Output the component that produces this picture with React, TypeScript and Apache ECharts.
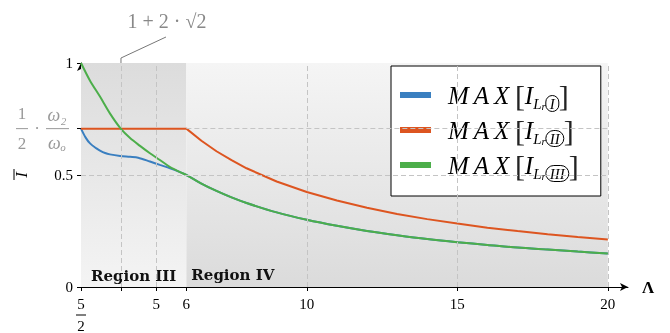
import React, { useEffect, useRef } from "react";
import * as echarts from "echarts";

// ---- data ----
const blueX = [2.5, 2.65, 2.8, 3.0, 3.13, 3.3, 3.46, 3.8, 4.13, 4.4, 4.79, 5.12, 5.46, 5.79, 6];
const blueY = [0.707, 0.668, 0.641, 0.62, 0.609, 0.598, 0.592, 0.585, 0.581, 0.577, 0.56, 0.545, 0.53, 0.513, 0.5];
const greenX = [2.5, 2.8, 3.13, 3.46, 3.82, 4.13, 4.46, 4.79, 5.12, 5.46, 5.79, 6];
const greenY = [1.0, 0.921, 0.85, 0.775, 0.707, 0.665, 0.63, 0.597, 0.567, 0.535, 0.513, 0.5];
const tailX = [6.5, 7, 7.5, 8, 9, 10, 11, 12, 13, 14, 15, 16, 17, 18, 19, 20];
const tailY = [0.462, 0.429, 0.4, 0.375, 0.333, 0.3, 0.273, 0.25, 0.231, 0.214, 0.2, 0.188, 0.176, 0.167, 0.158, 0.15];
const orangeX = [2.5, 6, 6.5, 7, 7.5, 8, 9, 10, 11, 12, 13, 14, 15, 16, 17, 18, 19, 20];
const orangeY = [0.707, 0.707, 0.653, 0.606, 0.566, 0.53, 0.471, 0.424, 0.386, 0.354, 0.326, 0.303, 0.283, 0.265, 0.25, 0.236, 0.223, 0.212];

const seriesNames = ["I", "II", "III"];
const xTickValues = [2.5, 3.828, 5, 6, 10, 15, 20];
const xLabelValues = [2.5, 5, 6, 10, 15, 20];
const yTickValues = [0, 0.5, 0.707, 1];
const yLabelValues = [0, 0.5, 1];
const vGridValues = [3.828, 5, 10, 15, 20];
const hGridValues = [0.5, 0.707];
const regionIII = [2.5, 6];
const regionIV = [6, 20];

const BLUE = "#3a7fc0";
const ORANGE = "#dd5520";
const GREEN = "#4cae4a";
const SERIF = "'Liberation Serif', 'DejaVu Serif', serif";

const zip = (xs: number[], ys: number[]) => xs.map((x, i) => [x, ys[i]]);

export default function App() {
  const ref = useRef<HTMLDivElement>(null);
  useEffect(() => {
    if (!ref.current) return;
    const chart = echarts.init(ref.current, null, { renderer: "svg" });
    const grad = (a: string, b: string) =>
      new echarts.graphic.LinearGradient(0, 0, 0, 1, [
        { offset: 0, color: a },
        { offset: 1, color: b },
      ]);
    const option: any = {
      animation: false,
      grid: { left: 81, right: 42, top: 63, bottom: 46, containLabel: false },
      legend: {
        data: seriesNames,
        orient: "vertical",
        left: 391,
        top: 66,
        padding: [14, 22, 14, 9],
        itemGap: 3,
        itemWidth: 31,
        itemHeight: 6,
        icon: "rect",
        borderColor: "#000",
        borderWidth: 1,
        backgroundColor: "#fff",
        selectedMode: false,
        formatter: (n: string) => `{m|M\u2009A\u2009X}{sp| }{br|[}{i|I}{s|L}{r|r}{c|${n}}{br|]}`,
        textStyle: {
          fontFamily: SERIF,
          color: "#000",
          rich: {
            m: { fontFamily: SERIF, fontStyle: "italic", fontSize: 25, color: "#000", padding: [0, 0, 0, 12], lineHeight: 33 },
            sp: { fontFamily: SERIF, fontSize: 22, lineHeight: 33 },
            br: { fontFamily: SERIF, fontSize: 30, color: "#222", lineHeight: 33 },
            i: { fontFamily: SERIF, fontStyle: "italic", fontSize: 25, color: "#000", lineHeight: 33 },
            s: { fontFamily: SERIF, fontStyle: "italic", fontSize: 15, color: "#000", verticalAlign: "bottom", lineHeight: 24 },
            r: { fontFamily: SERIF, fontStyle: "italic", fontSize: 11, color: "#000", verticalAlign: "bottom", lineHeight: 22 },
            c: {
              fontFamily: SERIF,
              fontStyle: "italic",
              fontSize: 15,
              color: "#000",
              borderColor: "#000",
              borderWidth: 1,
              borderRadius: 9,
              padding: [1, 4, 0, 4],
              verticalAlign: "bottom",
              lineHeight: 16,
            },
          },
        },
      },
      xAxis: {
        type: "value",
        min: 2.5,
        max: 20.67,
        name: "Λ",
        nameLocation: "end",
        nameGap: 14,
        nameTextStyle: { fontFamily: SERIF, fontWeight: "bold", fontSize: 17, color: "#000" },
        axisLine: { show: true, symbol: ["none", "arrow"], symbolSize: [6, 8], lineStyle: { color: "#000", width: 1 } },
        axisTick: { show: true, customValues: xTickValues, length: 4, lineStyle: { color: "#000" } },
        axisLabel: {
          customValues: xLabelValues,
          formatter: (v: number) => (Math.abs(v - 2.5) < 1e-6 ? "5" : String(v)),
          fontFamily: SERIF,
          fontSize: 15,
          color: "#000",
          margin: 9,
        },
        splitLine: { show: false },
      },
      yAxis: {
        type: "value",
        min: 0,
        max: 1,
        axisLine: { show: true, symbol: ["none", "arrow"], symbolSize: [6, 8], lineStyle: { color: "#000", width: 1 } },
        axisTick: { show: true, customValues: yTickValues, length: 4, lineStyle: { color: "#000" } },
        axisLabel: {
          customValues: yLabelValues,
          formatter: (v: number) => (v === 0 ? "0" : v === 1 ? "1" : "0.5"),
          fontFamily: SERIF,
          fontSize: 15,
          color: "#000",
          margin: 8,
        },
        splitLine: { show: false },
      },
      series: [
        {
          type: "line",
          data: [],
          z: 1,
          silent: true,
          markArea: {
            silent: true,
            data: [
              [
                {
                  xAxis: regionIII[0],
                  yAxis: 0,
                  itemStyle: { color: grad("#dcdcdc", "#f4f4f4") },
                  label: { show: true, position: "insideBottom", distance: 4, formatter: "Region III" },
                },
                { xAxis: regionIII[1], yAxis: 1 },
              ],
              [
                {
                  xAxis: regionIV[0],
                  yAxis: 0,
                  itemStyle: { color: grad("#f5f5f5", "#dbdbdb") },
                  label: { show: true, position: "insideBottomLeft", distance: 5, formatter: "Region IV" },
                },
                { xAxis: regionIV[1], yAxis: 1 },
              ],
            ],
            label: { fontFamily: "'DejaVu Serif', serif", fontWeight: "bold", fontSize: 15, color: "#111" },
          },
          markLine: {
            silent: true,
            symbol: ["none", "none"],
            label: { show: false },
            lineStyle: { type: [5, 3], color: "#c4c4c4", width: 1 },
            data: [
              ...vGridValues.map((v) => [{ coord: [v, 0] }, { coord: [v, 1] }]),
              ...hGridValues.map((v) => [{ coord: [v > 0.6 ? 6 : 2.5, v] }, { coord: [20, v] }]),
            ],
          },
        },
        {
          name: seriesNames[0],
          type: "line",
          data: zip(blueX.concat(tailX), blueY.concat(tailY)),
          smooth: 0.3,
          showSymbol: false,
          lineStyle: { color: BLUE, width: 2 },
          itemStyle: { color: BLUE },
          z: 3,
        },
        {
          name: seriesNames[1],
          type: "line",
          data: zip(orangeX, orangeY),
          smooth: false,
          showSymbol: false,
          lineStyle: { color: ORANGE, width: 2 },
          itemStyle: { color: ORANGE },
          z: 3,
        },
        {
          name: seriesNames[2],
          type: "line",
          data: zip(greenX.concat(tailX), greenY.concat(tailY)),
          smooth: 0.3,
          showSymbol: false,
          lineStyle: { color: GREEN, width: 2 },
          itemStyle: { color: GREEN },
          z: 4,
        },
      ],
    };
    chart.setOption(option);

    const P = (x: number, y: number) => chart.convertToPixel({ gridIndex: 0 }, [x, y]) as number[];
    const top = P(3.828, 1);
    const base = P(2.5, 0);
    const yFr = P(2.5, 0.707);
    const gray = "#999";
    chart.setOption({
      graphic: [
        {
          type: "polyline",
          shape: { points: [[top[0], top[1] + 4], [top[0], top[1] - 5], [top[0] + 45, top[1] - 26]] },
          style: { stroke: "#777", lineWidth: 1, fill: "none" },
          silent: true,
        },
        {
          type: "text",
          x: top[0] + 46,
          y: top[1] - 42,
          style: { text: "1 + 2 · √2", fill: "#888", font: `20px ${SERIF}`, align: "center", verticalAlign: "middle" },
        },
        // 5/2 label: bar and denominator
        {
          type: "line",
          shape: { x1: base[0] - 5, y1: base[1] + 28, x2: base[0] + 5, y2: base[1] + 28 },
          style: { stroke: "#000", lineWidth: 1 },
        },
        {
          type: "text",
          x: base[0],
          y: base[1] + 39,
          style: { text: "2", fill: "#000", font: `15px ${SERIF}`, align: "center", verticalAlign: "middle" },
        },
        // y label 1/2 · ω2/ωo
        { type: "text", x: 22, y: yFr[1] - 15, style: { text: "1", fill: gray, font: `17px ${SERIF}`, align: "center", verticalAlign: "middle" } },
        { type: "line", shape: { x1: 16, y1: yFr[1], x2: 28, y2: yFr[1] }, style: { stroke: gray, lineWidth: 1 } },
        { type: "text", x: 22, y: yFr[1] + 15, style: { text: "2", fill: gray, font: `17px ${SERIF}`, align: "center", verticalAlign: "middle" } },
        { type: "text", x: 37, y: yFr[1], style: { text: "·", fill: gray, font: `17px ${SERIF}`, align: "center", verticalAlign: "middle" } },
        { type: "text", x: 57, y: yFr[1] - 14, style: { text: "ω₂", fill: gray, font: `italic 18px ${SERIF}`, align: "center", verticalAlign: "middle" } },
        { type: "line", shape: { x1: 46, y1: yFr[1], x2: 69, y2: yFr[1] }, style: { stroke: gray, lineWidth: 1 } },
        { type: "text", x: 57, y: yFr[1] + 14, style: { text: "ωₒ", fill: gray, font: `italic 18px ${SERIF}`, align: "center", verticalAlign: "middle" } },
        // y axis title: I with overline (rotated)
        {
          type: "text",
          x: 21,
          y: 175,
          rotation: Math.PI / 2,
          style: { text: "I", fill: "#000", font: `italic 17px ${SERIF}`, align: "center", verticalAlign: "middle" },
        },
        { type: "line", shape: { x1: 14, y1: 169, x2: 14, y2: 180 }, style: { stroke: "#000", lineWidth: 1 } },
      ],
    });
    return () => chart.dispose();
  }, []);
  return <div ref={ref} style={{ position: "fixed", left: 0, top: 0, width: 670, height: 333 }} />;
}
